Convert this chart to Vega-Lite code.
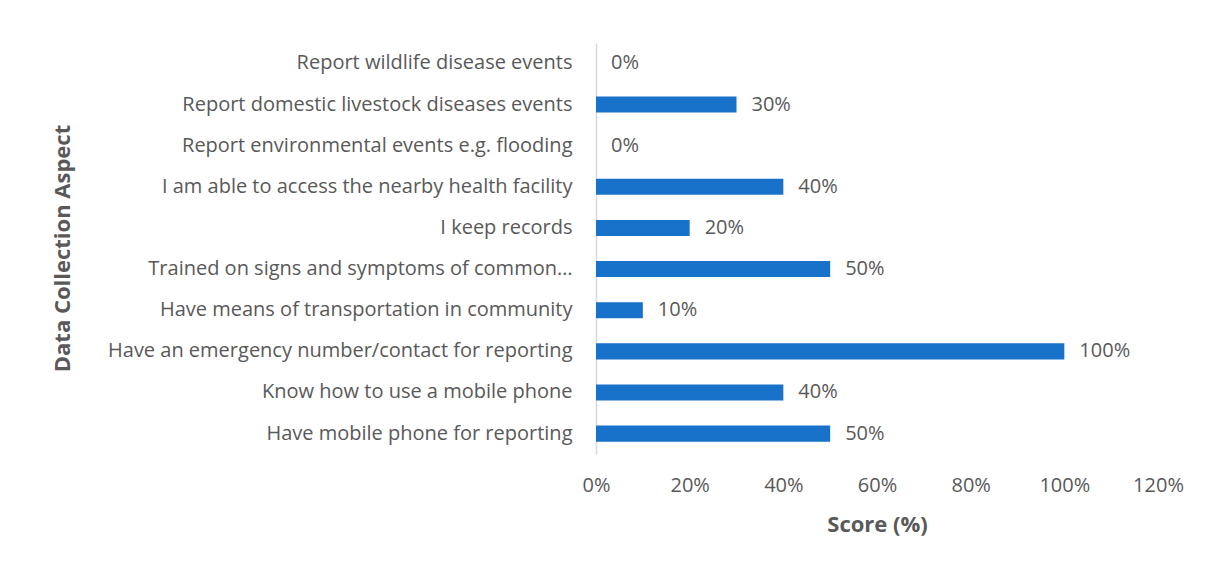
{
  "$schema": "https://vega.github.io/schema/vega-lite/v6.json",
  "width": 562,
  "height": 411,
  "autosize": {"type": "none"},
  "padding": {"left": 596, "top": 43, "right": 48, "bottom": 109},
  "background": "white",
  "config": {
    "view": {"stroke": null},
    "font": "Open Sans"
  },
  "data": {
    "values": [
      {"aspect": "Report wildlife disease events", "score": 0},
      {"aspect": "Report domestic livestock diseases events", "score": 0.3},
      {"aspect": "Report environmental events e.g. flooding", "score": 0},
      {"aspect": "I am able to access the nearby health facility", "score": 0.4},
      {"aspect": "I keep records", "score": 0.2},
      {"aspect": "Trained on signs and symptoms of common…", "score": 0.5},
      {"aspect": "Have means of transportation in community", "score": 0.1},
      {"aspect": "Have an emergency number/contact for reporting", "score": 1.0},
      {"aspect": "Know how to use a mobile phone", "score": 0.4},
      {"aspect": "Have mobile phone for reporting", "score": 0.5}
    ]
  },
  "encoding": {
    "y": {
      "field": "aspect",
      "type": "nominal",
      "sort": null,
      "scale": {"paddingInner": 0.61, "paddingOuter": 0.3},
      "axis": {
        "title": "Data Collection Aspect",
        "titleFont": "Open Sans",
        "titleFontSize": 22,
        "titleFontWeight": "bold",
        "titleColor": "#595959",
        "titleX": -534,
        "titleY": 205,
        "titleAngle": -90,
        "titleAlign": "center",
        "titleBaseline": "middle",
        "labelFont": "Open Sans",
        "labelFontSize": 20,
        "labelColor": "#595959",
        "labelPadding": 24,
        "labelLimit": 600,
        "ticks": false,
        "domain": true,
        "domainColor": "#d9d9d9",
        "domainWidth": 1.5,
        "grid": false
      }
    },
    "x": {
      "field": "score",
      "type": "quantitative",
      "scale": {"domain": [0, 1.2], "nice": false},
      "axis": {
        "title": "Score (%)",
        "titleFont": "Open Sans",
        "titleFontSize": 22,
        "titleFontWeight": "bold",
        "titleColor": "#595959",
        "titleY": 70,
        "titleBaseline": "middle",
        "values": [0, 0.2, 0.4, 0.6, 0.8, 1.0, 1.2],
        "format": ".0%",
        "labelFont": "Open Sans",
        "labelFontSize": 20,
        "labelColor": "#595959",
        "labelPadding": 21,
        "labelFlush": false,
        "labelOverlap": false,
        "ticks": false,
        "domain": false,
        "grid": false
      }
    }
  },
  "layer": [
    {
      "mark": {"type": "bar", "color": "#1872C9"}
    },
    {
      "mark": {"type": "text", "align": "left", "baseline": "middle", "dx": 15, "font": "Open Sans", "fontSize": 20, "color": "#595959"},
      "encoding": {
        "text": {"field": "score", "type": "quantitative", "format": ".0%"}
      }
    }
  ]
}
